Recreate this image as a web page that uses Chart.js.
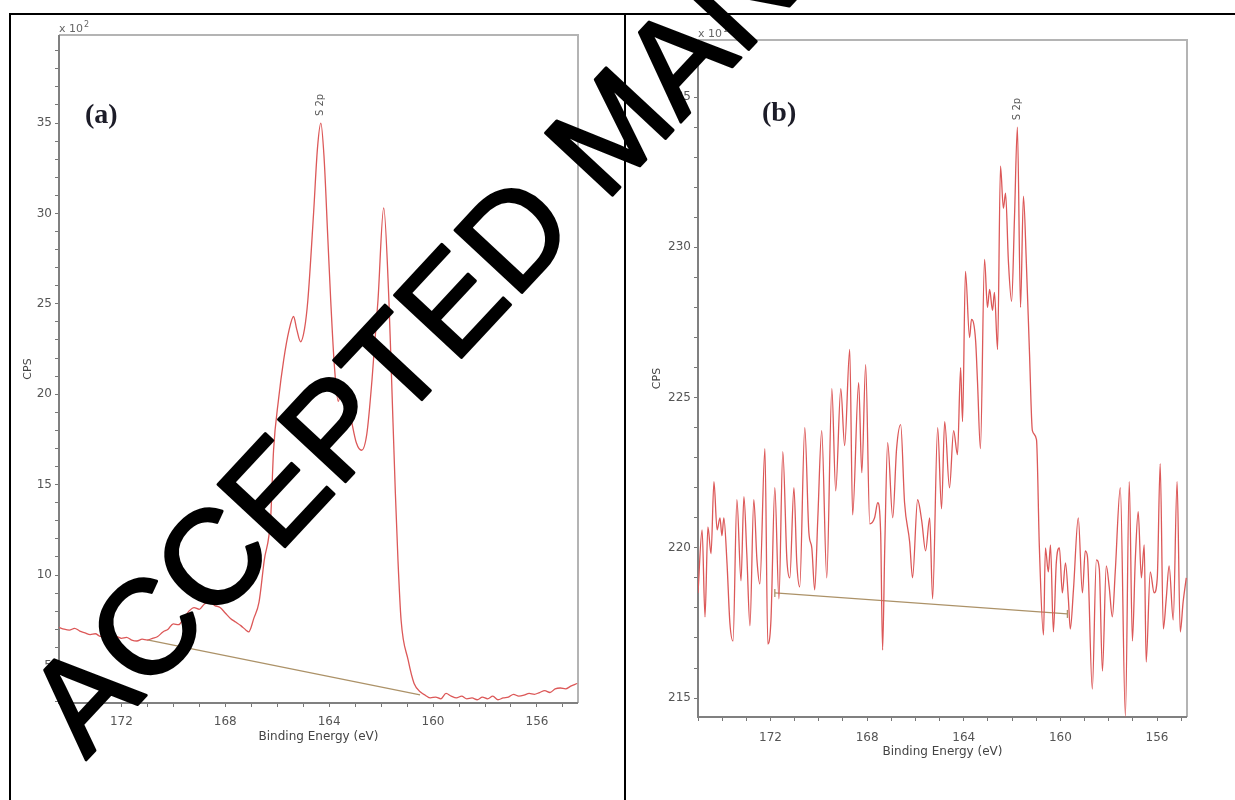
<!DOCTYPE html>
<html>
<head>
<meta charset="utf-8">
<title>S 2p spectra</title>
<script src="https://cdn.jsdelivr.net/npm/chart.js@4.4.0/dist/chart.umd.min.js"></script>
<style>
  html, body { margin: 0; padding: 0; background: #fff; overflow: hidden; }
  #page { position: relative; width: 1235px; height: 800px; overflow: hidden; }
  .panel { position: absolute; top: 0; height: 800px; }
  #panelA { left: 0; width: 625px; }
  #panelB { left: 625px; width: 610px; }
  .rule { position: absolute; background: #000; z-index: 2; }
  #stamp { position: absolute; left: 0; top: 0; z-index: 3; pointer-events: none; }
</style>
</head>
<body>
<div id="page">
  <div class="panel" id="panelA"><canvas id="chartA"></canvas></div>
  <div class="panel" id="panelB"><canvas id="chartB"></canvas></div>
  <div class="rule" style="left:9px; top:13px; width:1226px; height:2px;"></div>
  <div class="rule" style="left:9px; top:13px; width:2px; height:787px;"></div>
  <div class="rule" style="left:624px; top:13px; width:2px; height:787px;"></div>
  <canvas id="stamp" width="1235" height="800"></canvas>
</div>
<script>
// (a) S 2p region, counts in units of 10^2 CPS
const energyA = [
  174.40, 174.20, 174.00, 173.80, 173.60, 173.40, 173.20, 173.00, 172.80, 172.60,
  172.40, 172.20, 172.00, 171.80, 171.60, 171.40, 171.20, 171.00, 170.80, 170.60,
  170.40, 170.20, 170.00, 169.80, 169.60, 169.40, 169.20, 169.00, 168.80, 168.60,
  168.40, 168.20, 168.00, 167.80, 167.60, 167.40, 167.20, 167.10, 166.90, 166.70,
  166.50, 166.25, 166.14, 165.95, 165.75, 165.55, 165.37, 165.25, 165.10, 164.95,
  164.82, 164.60, 164.45, 164.32, 164.20, 164.05, 163.94, 163.80, 163.65, 163.50,
  163.35, 163.15, 162.95, 162.75, 162.55, 162.35, 162.12, 161.90, 161.70, 161.60,
  161.45, 161.35, 161.23, 160.96, 160.73, 160.46, 160.30, 160.10, 159.90, 159.70,
  159.50, 159.30, 159.10, 158.90, 158.70, 158.50, 158.30, 158.10, 157.90, 157.70,
  157.50, 157.30, 157.10, 156.90, 156.70, 156.50, 156.30, 156.10, 155.90, 155.70,
  155.50, 155.30, 155.10, 154.90, 154.70, 154.45
];
const cpsA = [
  7.10, 7.00, 6.95, 7.05, 6.90, 6.80, 6.70, 6.75, 6.60, 6.70,
  6.55, 6.60, 6.50, 6.55, 6.40, 6.35, 6.45, 6.40, 6.50, 6.60,
  6.85, 7.00, 7.30, 7.25, 7.60, 8.00, 8.20, 8.10, 8.40, 8.50,
  8.30, 8.20, 7.90, 7.60, 7.40, 7.20, 6.95, 6.85, 7.60, 8.50,
  10.80, 13.20, 16.90, 19.70, 21.90, 23.50, 24.30, 23.60, 22.90, 23.60,
  25.20, 30.00, 33.60, 35.00, 33.20, 28.60, 25.20, 21.60, 19.60, 20.40,
  20.00, 18.60, 17.30, 16.90, 17.80, 20.80, 25.20, 30.30, 25.20, 21.00,
  14.50, 10.80, 7.50, 5.30, 4.00, 3.50, 3.35, 3.20, 3.25, 3.15,
  3.45, 3.30, 3.20, 3.30, 3.15, 3.20, 3.10, 3.25, 3.15, 3.30,
  3.10, 3.20, 3.25, 3.40, 3.30, 3.35, 3.45, 3.40, 3.50, 3.60,
  3.50, 3.70, 3.75, 3.70, 3.85, 4.00
];
const bgEnergyA = [171.00, 160.50];
const bgCpsA = [6.41, 3.37];

// (b) S 2p region, counts in units of 10^1 CPS
const energyB = [
  175.00, 174.83, 174.71, 174.59, 174.46, 174.34, 174.21, 174.09, 174.01, 173.93,
  173.80, 173.68, 173.55, 173.39, 173.22, 173.10, 172.98, 172.85, 172.69, 172.56,
  172.44, 172.23, 172.11, 171.98, 171.82, 171.65, 171.49, 171.32, 171.20, 171.03,
  170.91, 170.79, 170.58, 170.41, 170.29, 170.17, 170.04, 169.88, 169.67, 169.46,
  169.30, 169.09, 168.93, 168.72, 168.60, 168.35, 168.22, 168.06, 167.89, 167.69,
  167.56, 167.44, 167.36, 167.27, 167.15, 166.94, 166.78, 166.61, 166.45, 166.24,
  166.12, 165.91, 165.74, 165.58, 165.41, 165.29, 165.08, 164.92, 164.79, 164.59,
  164.42, 164.26, 164.13, 164.05, 163.93, 163.76, 163.68, 163.51, 163.43, 163.31,
  163.14, 163.02, 162.93, 162.81, 162.73, 162.60, 162.48, 162.36, 162.27, 162.15,
  162.02, 161.90, 161.78, 161.65, 161.53, 161.41, 161.28, 161.16, 160.99, 160.87,
  160.70, 160.62, 160.50, 160.41, 160.29, 160.17, 160.04, 159.92, 159.79, 159.67,
  159.59, 159.46, 159.26, 159.09, 158.97, 158.88, 158.68, 158.51, 158.39, 158.26,
  158.10, 157.98, 157.85, 157.73, 157.52, 157.31, 157.15, 157.02, 156.90, 156.78,
  156.65, 156.53, 156.45, 156.28, 156.12, 155.99, 155.87, 155.74, 155.62, 155.50,
  155.33, 155.17, 155.04, 154.92, 154.79
];
const cpsB = [
  218.5, 220.6, 217.7, 220.7, 219.8, 222.2, 220.6, 221.0, 220.4, 221.0,
  219.5, 217.5, 216.9, 221.6, 218.9, 221.7, 219.8, 217.4, 221.6, 219.6,
  218.8, 223.3, 216.8, 217.6, 222.0, 218.3, 223.2, 219.6, 219.0, 222.0,
  219.5, 218.7, 224.0, 220.5, 220.0, 218.6, 221.0, 223.9, 219.0, 225.3,
  221.9, 225.3, 223.4, 226.6, 221.1, 225.5, 222.5, 226.1, 220.8, 221.0,
  221.5, 220.5, 216.6, 220.0, 223.5, 221.0, 223.3, 224.1, 221.5, 220.2,
  219.0, 221.6, 220.9, 219.9, 221.0, 218.3, 224.0, 221.3, 224.2, 222.0,
  223.9, 223.1, 226.0, 224.2, 229.2, 227.0, 227.6, 226.9, 225.5, 223.3,
  229.6, 228.0, 228.6, 227.9, 228.5, 226.6, 232.7, 231.3, 231.8, 229.5,
  228.2, 231.0, 234.0, 228.0, 231.7, 229.5, 226.5, 223.9, 223.6, 220.0,
  217.1, 220.0, 219.2, 220.1, 217.2, 219.5, 220.0, 218.5, 219.5, 218.3,
  217.3, 218.6, 221.0, 218.5, 219.9, 219.7, 215.3, 219.6, 219.3, 215.9,
  219.4, 218.7, 217.7, 219.2, 222.0, 214.4, 222.2, 216.9, 219.6, 221.2,
  219.0, 220.1, 216.2, 219.2, 218.5, 219.0, 222.8, 217.3, 218.3, 219.4,
  217.6, 222.2, 217.2, 218.2, 219.0
];
const bgEnergyB = [171.82, 159.71];
const bgCpsB = [218.5, 217.8];

const peakName = 'S 2p';
const xTickEvery = 4;
const yTickEvery = 5;

const lineRed = 'rgb(220, 88, 88)';
const bgTan = 'rgb(172, 146, 104)';
const tickFont = { family: 'DejaVu Sans', size: 12 };

function toPoints(xs, ys) {
  return xs.map((x, i) => ({ x: x, y: ys[i] }));
}

function peakOf(xs, ys) {
  let k = 0;
  ys.forEach((v, i) => { if (v > ys[k]) k = i; });
  return { x: xs[k], y: ys[k] };
}

// frame, multiplier, panel letter and peak name
const panelMarks = {
  id: 'panelMarks',
  beforeDatasetsDraw(chart, args, opts) {
    const { ctx, chartArea: a } = chart;
    ctx.save();
    ctx.lineWidth = 2;
    ctx.strokeStyle = '#b4b4b4';
    ctx.beginPath();
    ctx.moveTo(a.left, a.top);
    ctx.lineTo(a.right, a.top);
    ctx.lineTo(a.right, a.bottom);
    ctx.stroke();
    ctx.strokeStyle = '#808080';
    ctx.beginPath();
    ctx.moveTo(a.left, a.top);
    ctx.lineTo(a.left, a.bottom);
    ctx.lineTo(a.right, a.bottom);
    ctx.stroke();
    ctx.restore();
  },
  afterDatasetsDraw(chart, args, opts) {
    const { ctx, chartArea: a, scales } = chart;
    ctx.save();
    ctx.fillStyle = '#666';
    ctx.textBaseline = 'alphabetic';
    ctx.font = '11px "DejaVu Sans"';
    ctx.fillText('x 10', a.left, a.top - 3);
    const w = ctx.measureText('x 10').width;
    ctx.font = '8px "DejaVu Sans"';
    ctx.fillText(opts.exponent, a.left + w + 1, a.top - 8);

    ctx.font = 'bold 28px "Liberation Serif"';
    ctx.fillStyle = '#1c1c28';
    ctx.fillText(opts.panel, a.left + opts.panelDx, a.top + opts.panelDy);

    const px = scales.x.getPixelForValue(opts.peak.x);
    const py = scales.y.getPixelForValue(opts.peak.y);
    ctx.translate(px, py - 7);
    ctx.rotate(-Math.PI / 2);
    ctx.font = '10px "DejaVu Sans"';
    ctx.fillStyle = '#555';
    ctx.textAlign = 'left';
    ctx.textBaseline = 'middle';
    ctx.fillText(peakName, 0, 0);
    ctx.restore();
  }
};

function makeChart(id, cfg) {
  return new Chart(document.getElementById(id), {
    type: 'line',
    data: {
      datasets: [
        {
          data: toPoints(cfg.energy, cfg.cps),
          borderColor: lineRed,
          borderWidth: 1.3,
          pointRadius: 0,
          cubicInterpolationMode: 'monotone'
        },
        {
          data: toPoints(cfg.bgEnergy, cfg.bgCps),
          borderColor: bgTan,
          borderWidth: 1.3,
          pointStyle: 'line',
          rotation: 90,
          pointRadius: cfg.bgMarker,
          pointBorderColor: bgTan,
          pointBorderWidth: 1.3
        }
      ]
    },
    options: {
      responsive: true,
      maintainAspectRatio: false,
      animation: false,
      events: [],
      layout: { padding: cfg.padding },
      plugins: {
        legend: { display: false },
        tooltip: { enabled: false },
        panelMarks: {
          panel: cfg.panel,
          exponent: cfg.exponent,
          panelDx: cfg.panelDx,
          panelDy: cfg.panelDy,
          peak: peakOf(cfg.energy, cfg.cps)
        }
      },
      scales: {
        x: {
          type: 'linear',
          reverse: true,
          min: cfg.xMin,
          max: cfg.xMax,
          border: { display: false },
          grid: { drawOnChartArea: false, drawTicks: true, tickLength: 4, color: '#777' },
          ticks: {
            stepSize: 1,
            includeBounds: false,
            autoSkip: false,
            maxRotation: 0,
            padding: cfg.xLabelPad,
            color: '#555',
            font: tickFont,
            callback: v => (Math.abs(v % xTickEvery) < 1e-6 ? String(v) : '')
          },
          title: {
            display: true,
            text: 'Binding Energy (eV)',
            color: '#444',
            font: tickFont,
            padding: { top: 0, bottom: cfg.xTitlePad }
          },
          afterFit: s => { s.height = cfg.xHeight; }
        },
        y: {
          type: 'linear',
          min: cfg.yMin,
          max: cfg.yMax,
          border: { display: false },
          grid: { drawOnChartArea: false, drawTicks: true, tickLength: 4, color: '#777' },
          ticks: {
            stepSize: 1,
            includeBounds: false,
            autoSkip: false,
            padding: 3,
            color: '#555',
            font: tickFont,
            callback: v => (Math.abs(v % yTickEvery) < 1e-6 ? String(v) : '')
          },
          title: {
            display: true,
            text: 'CPS',
            color: '#444',
            font: { family: 'DejaVu Sans', size: 11 },
            padding: { top: 4, bottom: 0 }
          },
          afterFit: s => { s.width = cfg.yWidth; }
        }
      }
    },
    plugins: [panelMarks]
  });
}

makeChart('chartA', {
  energy: energyA, cps: cpsA, bgEnergy: bgEnergyA, bgCps: bgCpsA, bgMarker: 0,
  panel: '(a)', exponent: '2', panelDx: 26, panelDy: 88,
  xMin: 154.42, xMax: 174.4, yMin: 2.92, yMax: 39.87,
  padding: { left: 18, top: 35, right: 47, bottom: 0 },
  yWidth: 41, xHeight: 97, xLabelPad: 8, xTitlePad: 56
});

makeChart('chartB', {
  energy: energyB, cps: cpsB, bgEnergy: bgEnergyB, bgCps: bgCpsB, bgMarker: 4,
  panel: '(b)', exponent: '1', panelDx: 64, panelDy: 81,
  xMin: 154.76, xMax: 175.0, yMin: 214.37, yMax: 236.9,
  padding: { left: 22, top: 40, right: 48, bottom: 0 },
  yWidth: 51, xHeight: 83, xLabelPad: 10, xTitlePad: 41
});

// diagonal "accepted manuscript" stamp across both panels
const stamp = document.getElementById('stamp').getContext('2d');
stamp.save();
stamp.translate(86, 760);
stamp.rotate(-47 * Math.PI / 180);
stamp.font = '133px "Liberation Sans"';
stamp.fillStyle = '#000';
stamp.strokeStyle = '#000';
stamp.lineWidth = 3;
stamp.lineJoin = 'round';
stamp.fillText('ACCEPTED MANUSCRIPT', 0, 0);
stamp.strokeText('ACCEPTED MANUSCRIPT', 0, 0);
stamp.restore();
</script>
</body>
</html>
